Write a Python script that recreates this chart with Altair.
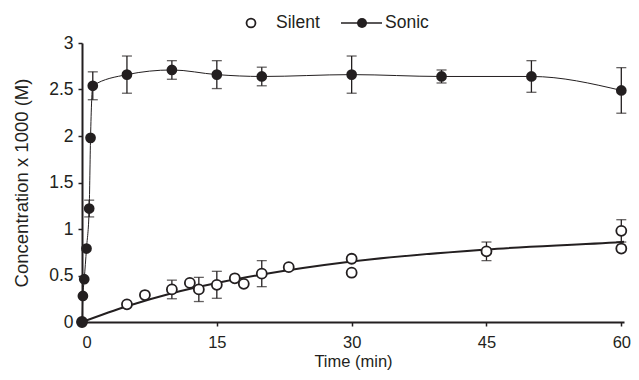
import altair as alt
import pandas as pd

# ---- data ----
sonic_t = [0, 0.1, 0.25, 0.5, 0.8, 0.95, 1.2, 5, 10, 15, 20, 30, 40, 50, 60]
sonic_c = [0, 0.28, 0.46, 0.79, 1.22, 1.98, 2.54, 2.66, 2.71, 2.66, 2.64, 2.66, 2.64, 2.64, 2.49]
sonic_err = [0, 0, 0, 0, 0.09, 0, 0.15, 0.2, 0.1, 0.15, 0.1, 0.2, 0.07, 0.17, 0.245]

silent_t = [0, 5, 7, 10, 12, 13, 15, 17, 18, 20, 23, 30, 30, 45, 60, 60]
silent_c = [0, 0.19, 0.29, 0.35, 0.42, 0.35, 0.40, 0.47, 0.41, 0.52, 0.59, 0.68, 0.53, 0.76, 0.98, 0.79]
silent_err = [0, 0, 0, 0.1, 0, 0.13, 0.145, 0, 0, 0.14, 0, 0, 0, 0.1, 0.12, 0]

fit_t = [0, 5, 10, 15, 20, 30, 45, 60, 60.3]
fit_c = [0, 0.17, 0.31, 0.42, 0.51, 0.65, 0.78, 0.86, 0.862]

x_ticks = [0, 15, 30, 45, 60]
y_ticks = [0, 0.5, 1, 1.5, 2, 2.5, 3]

INK = "#231f20"
FONT = "Liberation Sans"

sonic = pd.DataFrame({"t": sonic_t, "c": sonic_c, "e": sonic_err})
sonic["lo"] = sonic["c"] - sonic["e"]
sonic["hi"] = sonic["c"] + sonic["e"]
silent = pd.DataFrame({"t": silent_t, "c": silent_c, "e": silent_err})
silent["lo"] = silent["c"] - silent["e"]
silent["hi"] = silent["c"] + silent["e"]
fit = pd.DataFrame({"t": fit_t, "c": fit_c})

xs = alt.Scale(domain=[0, 60.3], nice=False, zero=True)
ys = alt.Scale(domain=[0, 3], nice=False)

X = alt.X("t:Q", scale=xs, axis=alt.Axis(values=x_ticks, title="Time (min)"))
Y = alt.Y("c:Q", scale=ys, axis=alt.Axis(values=y_ticks, format="~g",
                                          title="Concentration x 1000 (M)"))


def errbars(df):
    d = df[df["e"] > 0]
    base = alt.Chart(d)
    rule = base.mark_rule(color=INK, strokeWidth=1.3).encode(
        x=alt.X("t:Q", scale=xs), y=alt.Y("lo:Q", scale=ys), y2="hi:Q")
    cap_hi = base.mark_tick(color=INK, thickness=1.3, size=10, orient="horizontal").encode(
        x=alt.X("t:Q", scale=xs), y=alt.Y("hi:Q", scale=ys))
    cap_lo = base.mark_tick(color=INK, thickness=1.3, size=10, orient="horizontal").encode(
        x=alt.X("t:Q", scale=xs), y=alt.Y("lo:Q", scale=ys))
    return [rule, cap_hi, cap_lo]


sonic_line = alt.Chart(sonic).mark_line(color=INK, strokeWidth=1, interpolate="monotone").encode(x=X, y=Y)
fit_line = alt.Chart(fit).mark_line(color=INK, strokeWidth=2, interpolate="monotone").encode(x=X, y=Y)

silent_pts = alt.Chart(silent).mark_point(
    shape="circle", filled=False, fill="white", fillOpacity=1, stroke=INK,
    strokeWidth=1.8, size=100, opacity=1).encode(x=X, y=Y)
sonic_pts = alt.Chart(sonic).mark_point(
    shape="circle", filled=True, color=INK, size=115, opacity=1).encode(x=X, y=Y)

# ---- hand-drawn legend above the plot ----
one = alt.Data(values=[{}])
leg_silent = alt.Chart(one).mark_point(
    shape="circle", filled=False, fill="white", fillOpacity=1, stroke=INK,
    strokeWidth=1.8, size=80, opacity=1).encode(x=alt.value(169), y=alt.value(-20))
leg_silent_txt = alt.Chart(one).mark_text(
    text="Silent", align="left", baseline="middle", font=FONT, fontSize=17.5, color=INK
).encode(x=alt.value(194), y=alt.value(-20))
leg_sonic_line = alt.Chart(one).mark_rule(color=INK, strokeWidth=1.3).encode(
    x=alt.value(259), x2=alt.value(300), y=alt.value(-20))
leg_sonic_dot = alt.Chart(one).mark_point(
    shape="circle", filled=True, color=INK, size=100, opacity=1).encode(x=alt.value(280), y=alt.value(-20))
leg_sonic_txt = alt.Chart(one).mark_text(
    text="Sonic", align="left", baseline="middle", font=FONT, fontSize=17.5, color=INK
).encode(x=alt.value(303), y=alt.value(-20))

layers = [sonic_line, fit_line] + errbars(silent) + errbars(sonic) + [silent_pts, sonic_pts,
          leg_silent, leg_silent_txt, leg_sonic_line, leg_sonic_dot, leg_sonic_txt]

chart = alt.layer(*layers).properties(
    width=542, height=279,
    autosize=alt.AutoSizeParams(type="none"),
    padding={"left": 74, "top": 35, "right": 7, "bottom": 50},
).configure_view(stroke=None).configure_axis(
    grid=False,
    domainColor=INK, domainWidth=2,
    tickColor=INK, tickWidth=1.5, tickSize=4,
    labelColor=INK, labelFont=FONT,
    titleColor=INK, titleFont=FONT, titleFontWeight="normal",
).configure_axisX(labelFontSize=16.5, titleFontSize=16.5, labelPadding=8, titlePadding=3
).configure_axisY(labelFontSize=17.5, titleFontSize=18.5, labelPadding=5, titlePadding=17)

chart.save("out.html", embed_options={"renderer": "svg", "actions": False})
